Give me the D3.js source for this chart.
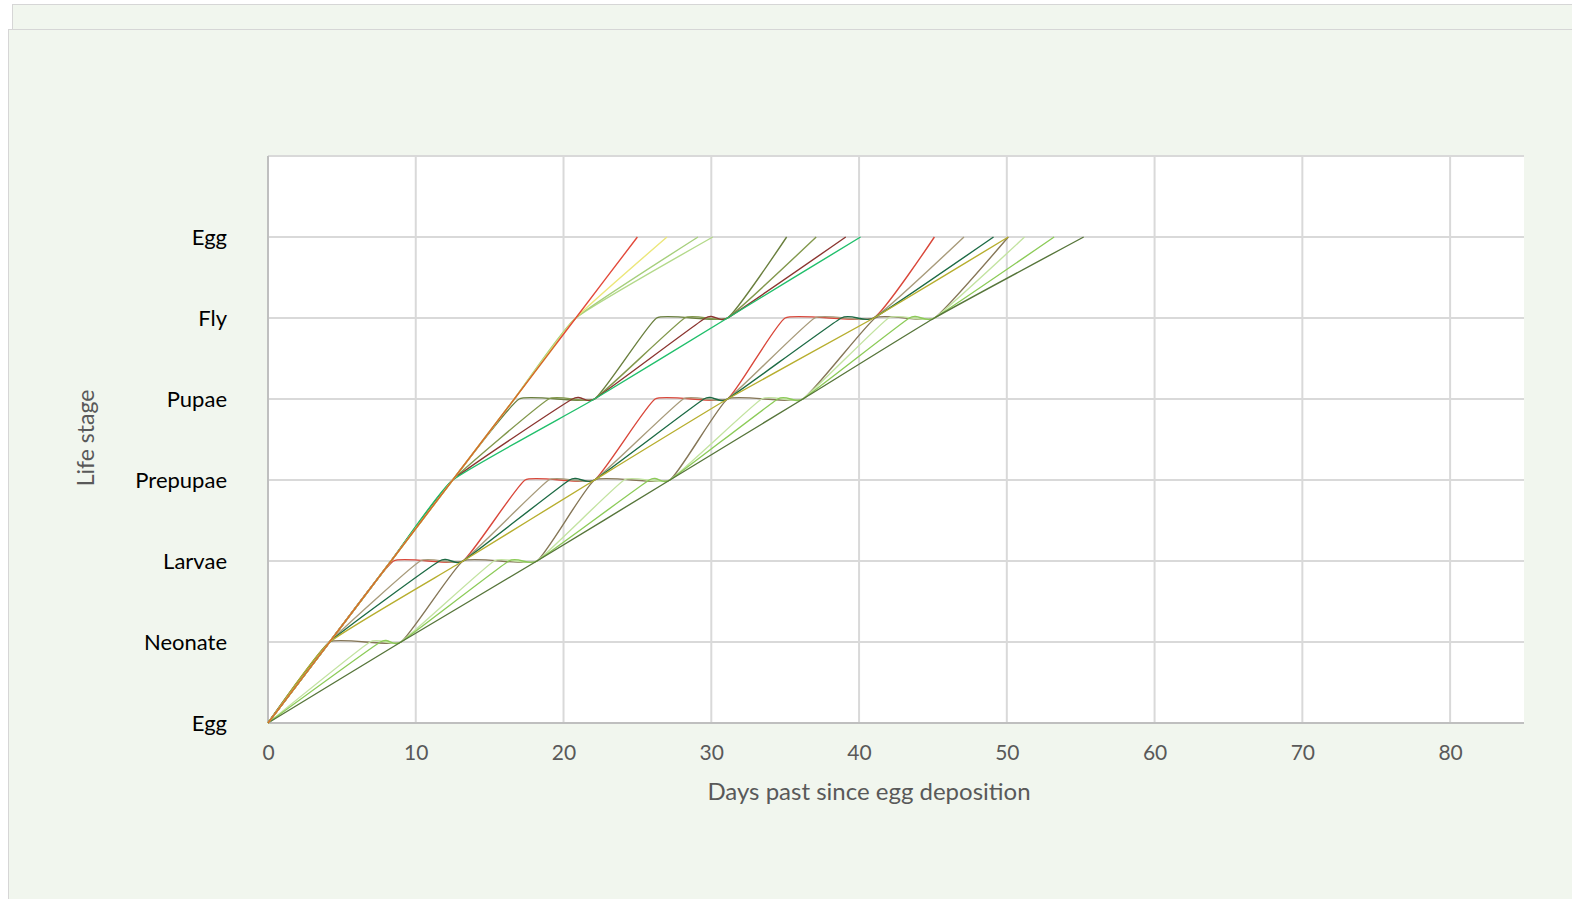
<!DOCTYPE html>
<html><head><meta charset="utf-8">
<script src="https://cdn.jsdelivr.net/npm/d3@7"></script>
<style>
html,body{margin:0;padding:0;background:#fff;}
svg{display:block;font-family:Lato,"Open Sans",sans-serif;}
</style></head><body>
<svg id="chart" width="1572" height="899"></svg>
<script>
// ---------- data ----------
const stageLabels = ["Egg", "Neonate", "Larvae", "Prepupae", "Pupae", "Fly", "Egg"];
const xTickValues = [0, 10, 20, 30, 40, 50, 60, 70, 80];
const xTitle = "Days past since egg deposition";
const yTitle = "Life stage";

// slow cohort (starts at day 0)
const slowTaupe  = [[0,0],[4.17,1],[9,1],[13.2,2],[18.2,2],[22.1,3],[27.2,3],[31.1,4],[36.2,4],[41.1,5],[45.1,5],[50.1,6]];
const slowLight  = [[0,0],[6.9,1],[9,1],[15.3,2],[18.2,2],[24.1,3],[27.2,3],[33.4,4],[36.2,4],[42,5],[45.1,5],[51.2,6]];
const slowMedium = [[0,0],[7.6,1],[9,1],[16.3,2],[18.2,2],[25.8,3],[27.2,3],[34.5,4],[36.2,4],[43.4,5],[45.1,5],[53.2,6]];
const slowOlive  = [[0,0],[9,1],[18.2,2],[27.2,3],[36.2,4],[45.1,5],[55.2,6]];

// cohort branching at Neonate (day 4.2)
const midRed    = [[0,0],[4.17,1],[8.5,2],[13.2,2],[17.4,3],[22.1,3],[26.2,4],[31.1,4],[35,5],[41,5],[45.1,6]];
const midTaupe  = [[0,0],[4.17,1],[10.3,2],[13.2,2],[19,3],[22.1,3],[28.1,4],[31.1,4],[37,5],[41,5],[47.1,6]];
const midGreen  = [[0,0],[4.17,1],[11.6,2],[13.2,2],[20.4,3],[22.1,3],[29.5,4],[31.1,4],[38.8,5],[41,5],[49.1,6]];
const midYellow = [[0,0],[4.17,1],[13.2,2],[22.1,3],[31.1,4],[41,5],[50.1,6]];

// cohort branching at Prepupae (day 12.5)
const earlyOlive = [[0,0],[4.17,1],[8.33,2],[12.5,3],[17,4],[22.1,4],[26.3,5],[31.1,5],[35.1,6]];
const earlyMoss  = [[0,0],[4.17,1],[8.33,2],[12.5,3],[19,4],[22.1,4],[28.2,5],[31.1,5],[37.1,6]];
const earlyMaroon= [[0,0],[4.17,1],[8.33,2],[12.5,3],[20.6,4],[22.1,4],[29.6,5],[31.1,5],[39.1,6]];
const earlyJade  = [[0,0],[4.17,1],[8.33,2],[12.5,3],[22.1,4],[31.1,5],[40.1,6]];

// fastest cohort (branching at Fly)
const fastLime   = [[0,0],[4.17,1],[8.33,2],[12.5,3],[16.67,4],[20.83,5],[30.1,6]];
const fastSage   = [[0,0],[4.17,1],[8.33,2],[12.5,3],[16.67,4],[20.83,5],[29.1,6]];
const fastYellow = [[0,0],[4.17,1],[8.33,2],[12.5,3],[16.67,4],[20.83,5],[27,6]];
const fastRed    = [[0,0],[4.17,1],[8.33,2],[12.5,3],[16.67,4],[20.83,5],[25,6]];

const seriesList = [
  {data: slowTaupe,  color: "#857657"},
  {data: slowLight,  color: "#c3e3a1"},
  {data: slowMedium, color: "#8ccb58"},
  {data: slowOlive,  color: "#56753a"},
  {data: midRed,     color: "#d9473a"},
  {data: midTaupe,   color: "#a89b7b"},
  {data: midGreen,   color: "#1c6a44"},
  {data: midYellow,  color: "#b7ae2e"},
  {data: earlyOlive, color: "#6a7f3e"},
  {data: earlyMoss,  color: "#82984c"},
  {data: earlyMaroon,color: "#8b3530"},
  {data: earlyJade,  color: "#20bf6b"},
  {data: fastLime,   color: "#b3d98a"},
  {data: fastSage,   color: "#a6cf7c"},
  {data: fastYellow, color: "#ece77a"},
  {data: fastRed,    color: "url(#fastGrad)"}
];

// ---------- layout ----------
const svg = d3.select("#chart");
const W = 1572, H = 899;
const plot = {left: 268, right: 1524, top: 156, bottom: 723};
const font = "Lato, 'Open Sans', sans-serif";

// background panels
svg.append("rect").attr("x", 12.5).attr("y", 4.5).attr("width", W).attr("height", 60)
  .attr("fill", "#f1f6ee").attr("stroke", "#d6d6d6");
svg.append("rect").attr("x", 8.5).attr("y", 29.5).attr("width", W).attr("height", H)
  .attr("fill", "#f1f6ee").attr("stroke", "#d6d6d6");

const x = d3.scaleLinear().domain([0, 85]).range([plot.left, plot.right]);
const y = d3.scaleLinear().domain([0, 7]).range([plot.bottom, plot.top]);

svg.append("rect").attr("x", plot.left).attr("y", plot.top)
  .attr("width", plot.right - plot.left).attr("height", plot.bottom - plot.top)
  .attr("fill", "#ffffff");

// gridlines
const grid = svg.append("g");
grid.selectAll("line.v").data(xTickValues.filter(d => d > 0)).join("line")
  .attr("x1", d => x(d)).attr("x2", d => x(d))
  .attr("y1", plot.top).attr("y2", plot.bottom)
  .attr("stroke", "#d9d9d9").attr("stroke-width", 2);
grid.selectAll("line.h").data(d3.range(1, 8)).join("line")
  .attr("x1", plot.left).attr("x2", plot.right)
  .attr("y1", d => y(d)).attr("y2", d => y(d))
  .attr("stroke", "#d9d9d9").attr("stroke-width", 2);

// axes
const xAxis = d3.axisBottom(x).tickValues(xTickValues).tickSize(0).tickPadding(22);
const gx = svg.append("g").attr("transform", `translate(0,${plot.bottom})`).call(xAxis);
gx.select(".domain").attr("stroke", "#bfbfbf").attr("stroke-width", 2)
  .attr("d", `M${plot.left},0H${plot.right}`);
gx.selectAll("text").attr("font-size", 21).attr("fill", "#595959").attr("font-family", font);

const yAxis = d3.axisLeft(y).tickValues(d3.range(0, 7)).tickFormat(i => stageLabels[i])
  .tickSize(0).tickPadding(41);
const gy = svg.append("g").attr("transform", `translate(${plot.left},0)`).call(yAxis);
gy.select(".domain").attr("stroke", "#bfbfbf").attr("stroke-width", 2)
  .attr("d", `M0,${plot.top}V${plot.bottom}`);
gy.selectAll("text").attr("font-size", 22).attr("fill", "#000").attr("font-family", font);

// titles
svg.append("text").attr("x", 869).attr("y", 800).attr("text-anchor", "middle")
  .attr("font-size", 24).attr("fill", "#595959").attr("font-family", font).text(xTitle);
svg.append("text").attr("transform", "translate(94,438) rotate(-90)").attr("text-anchor", "middle")
  .attr("font-size", 23).attr("fill", "#595959").attr("font-family", font).text(yTitle);

// gradient for the fastest line (orange while bundled, red after branching)
const defs = svg.append("defs");
const grad = defs.append("linearGradient").attr("id", "fastGrad")
  .attr("gradientUnits", "userSpaceOnUse")
  .attr("x1", 0).attr("x2", 0).attr("y1", y(0)).attr("y2", y(6));
grad.append("stop").attr("offset", 0.775).attr("stop-color", "#d2692a");
grad.append("stop").attr("offset", 0.79).attr("stop-color", "#e2493a");

// lines
const line = d3.line().x(d => x(d[0])).y(d => y(d[1])).curve(d3.curveCardinal.tension(0.6));
svg.append("g").selectAll("path").data(seriesList).join("path")
  .attr("d", s => line(s.data))
  .attr("fill", "none")
  .attr("stroke", s => s.color)
  .attr("stroke-width", 1.4)
  .attr("stroke-linejoin", "round");
</script>
</body></html>
